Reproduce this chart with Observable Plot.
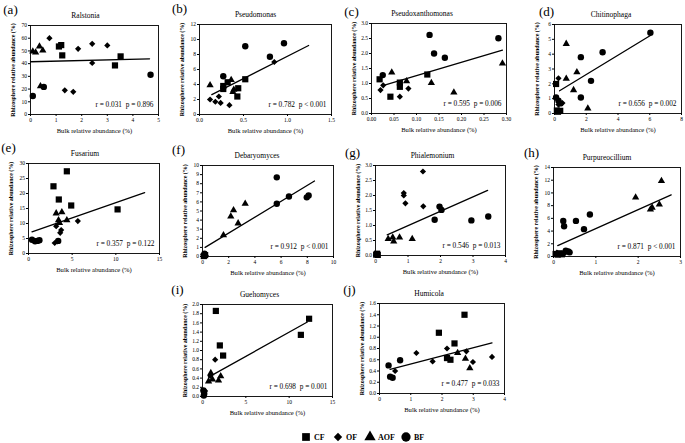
<!DOCTYPE html>
<html><head><meta charset="utf-8">
<script src="https://cdn.jsdelivr.net/npm/d3@7"></script>
<script src="https://cdn.jsdelivr.net/npm/@observablehq/plot@0.6"></script>
<style>
html,body{margin:0;padding:0;background:#fff;}
#chart{position:relative;width:685px;height:443px;overflow:hidden;font-family:'Liberation Serif','Times New Roman',serif;}
#chart svg{position:absolute;overflow:visible;}
</style></head><body><div id="chart"></div>
<script>
// ---- treatments / legend ----
const treatments = ["CF", "OF", "AOF", "BF"];
const symbolNames = ["square", "diamond2", "triangle", "circle"];
const symbolR = [3.5, 2.8, 2.7, 3.2];

// ---- data: [bulk %, rhizosphere %, treatment] ----
const ralstonia = [
  [1.11,53.5,"CF"],[1.2,54.6,"CF"],[1.24,46.5,"CF"],[3.3,38.6,"CF"],[3.52,45.7,"CF"],
  [0.74,60,"OF"],[1.86,51.7,"OF"],[2.41,55.6,"OF"],[2.41,40.5,"OF"],[3.0,54.3,"OF"],[1.34,19,"OF"],[1.67,17.8,"OF"],
  [0.09,49.6,"AOF"],[0.2,48.8,"AOF"],[0.35,53.5,"AOF"],[0.48,50.4,"AOF"],[0.39,22.2,"AOF"],
  [0.52,21.7,"BF"],[0.09,14.6,"BF"],[4.69,31.3,"BF"]
];
const pseudomonas = [
  [0.27,3.8,"CF"],[0.27,3.4,"CF"],[0.32,4.3,"CF"],[0.43,2.4,"CF"],[0.44,3.5,"CF"],[0.52,4.7,"CF"],
  [0.12,2.0,"OF"],[0.18,1.7,"OF"],[0.22,2.4,"OF"],[0.24,1.55,"OF"],[0.34,1.25,"OF"],[0.85,7.0,"OF"],
  [0.12,3.9,"AOF"],[0.36,4.6,"AOF"],[0.38,3.0,"AOF"],[0.39,3.3,"AOF"],
  [0.27,5.1,"BF"],[0.52,9.1,"BF"],[0.8,7.7,"BF"],[0.96,9.5,"BF"]
];
const pseudoxanthomonas = [
  [0.018,1.14,"CF"],[0.042,0.56,"CF"],[0.063,1.03,"CF"],[0.063,0.89,"CF"],[0.124,1.3,"CF"],
  [0.02,0.78,"OF"],[0.026,0.94,"OF"],[0.063,0.56,"OF"],[0.082,0.83,"OF"],
  [0.045,1.37,"AOF"],[0.078,1.08,"AOF"],[0.133,1.02,"AOF"],[0.183,0.7,"AOF"],[0.291,1.67,"AOF"],
  [0.025,1.28,"BF"],[0.129,2.62,"BF"],[0.139,2.0,"BF"],[0.163,1.86,"BF"],[0.282,2.51,"BF"]
];
const chitinophaga = [
  [0.1,1.99,"CF"],[0.15,0.2,"CF"],[0.36,0.18,"CF"],[0.22,0.12,"CF"],
  [0.25,2.37,"OF"],[0.5,0.7,"OF"],[0.25,0.6,"OF"],
  [0.74,4.7,"AOF"],[0.74,2.35,"AOF"],[1.41,2.78,"AOF"],[1.2,1.58,"AOF"],[2.1,0.34,"AOF"],
  [0.1,1.08,"BF"],[0.25,0.86,"BF"],[0.36,0.68,"BF"],[1.66,3.8,"BF"],[1.66,1.08,"BF"],[2.3,2.2,"BF"],[3.03,4.13,"BF"],[6.04,5.44,"BF"]
];
const fusarium = [
  [2.86,22.4,"CF"],[4.39,27.4,"CF"],[3.47,18,"CF"],[4.89,16,"CF"],[10.2,14.7,"CF"],
  [3.17,9.1,"OF"],[3.74,7.8,"OF"],[3.63,6.9,"OF"],[5.65,10.8,"OF"],[3.0,3.5,"OF"],[3.3,4.0,"OF"],
  [3.17,13.4,"AOF"],[3.82,13.8,"AOF"],[3.44,11.1,"AOF"],[4.39,11.1,"AOF"],[3.55,10.2,"AOF"],
  [0.4,4.6,"BF"],[0.75,4.1,"BF"],[1.0,4.2,"BF"],[1.25,4.4,"BF"],[3.4,4.2,"BF"]
];
const debaryomyces = [
  [0.1,0.05,"CF"],[0.2,0.15,"CF"],
  [0.05,0.2,"OF"],[0.25,0.1,"OF"],
  [1.6,2.35,"AOF"],[2.16,4.4,"AOF"],[2.37,5.1,"AOF"],[2.72,3.65,"AOF"],[3.26,5.8,"AOF"],
  [0.15,0.3,"BF"],[5.67,8.7,"BF"],[5.67,5.8,"BF"],[6.6,6.6,"BF"],[7.96,6.5,"BF"],[8.1,6.7,"BF"]
];
const phialemonium = [
  [0.02,0.03,"CF"],[0.05,0.06,"CF"],[0.07,0.02,"CF"],
  [0.87,2.08,"OF"],[0.87,2.0,"OF"],[0.92,1.74,"OF"],[1.46,2.8,"OF"],[1.47,1.64,"OF"],
  [0.39,0.55,"AOF"],[0.53,0.6,"AOF"],[0.56,0.47,"AOF"],[0.74,0.6,"AOF"],[1.13,0.55,"AOF"],
  [1.97,1.63,"BF"],[2.03,1.52,"BF"],[1.82,1.19,"BF"],[2.95,1.17,"BF"],[3.47,1.3,"BF"]
];
const purpureocillium = [
  [0.05,0.4,"CF"],[0.1,0.3,"CF"],[0.15,0.5,"CF"],[0.2,0.35,"CF"],
  [0.08,0.6,"OF"],[0.18,0.45,"OF"],[0.25,0.4,"OF"],
  [1.94,9.3,"AOF"],[2.29,7.4,"AOF"],[2.33,7.7,"AOF"],[2.5,8.2,"AOF"],[2.55,11.9,"AOF"],
  [0.23,5.6,"BF"],[0.25,4.75,"BF"],[0.53,5.6,"BF"],[0.86,6.6,"BF"],[0.72,4.3,"BF"],[0.29,0.9,"BF"],[0.35,0.8,"BF"],[0.38,0.65,"BF"]
];
const guehomyces = [
  [1.54,1.86,"CF"],[2.0,1.11,"CF"],[2.38,0.89,"CF"],[11.35,1.34,"CF"],[12.3,1.69,"CF"],
  [1.46,0.8,"OF"],[0.9,0.45,"OF"],[0.3,0.12,"OF"],
  [0.96,0.51,"AOF"],[0.7,0.33,"AOF"],[1.15,0.37,"AOF"],[1.85,0.35,"AOF"],[2.1,0.44,"AOF"],
  [0.1,0.13,"BF"],[0.2,0.06,"BF"],[0.15,0.02,"BF"]
];
const humicola = [
  [1.9,1.08,"CF"],[2.4,0.89,"CF"],[2.72,1.4,"CF"],[2.16,0.63,"CF"],[2.27,0.6,"CF"],
  [0.5,0.4,"OF"],[1.18,0.72,"OF"],[1.7,0.57,"OF"],[2.16,0.8,"OF"],[2.78,0.75,"OF"],[2.99,0.56,"OF"],[3.6,0.65,"OF"],
  [2.5,0.72,"AOF"],[2.75,0.62,"AOF"],[2.89,0.45,"AOF"],
  [0.29,0.5,"BF"],[0.34,0.3,"BF"],[0.42,0.28,"BF"],[0.66,0.59,"BF"]
];

// ---- trend line end points ----
const ralstoniaFit = [[0,41.5],[4.65,43.8]];
const pseudomonasFit = [[0.14,2.65],[1.24,9.2]];
const pseudoxanthomonasFit = [[0.027,0.94],[0.291,2.11]];
const chitinophagaFit = [[0.32,1.53],[6.04,5.26]];
const fusariumFit = [[0.4,7.2],[13.3,20.3]];
const debaryomycesFit = [[0.2,1.0],[8.55,8.3]];
const phialemoniumFit = [[0.36,0.69],[3.45,2.17]];
const purpureocilliumFit = [[0.1,1.72],[2.78,9.7]];
const guehomycesFit = [[0.7,0.42],[12.1,1.62]];
const humicolaFit = [[0.34,0.43],[3.6,0.9]];

// ---- titles, labels, statistics ----
const panelLabels = ["(a)","(b)","(c)","(d)","(e)","(f)","(g)","(h)","(i)","(j)"];
const genusNames = ["Ralstonia","Pseudomonas","Pseudoxanthomonas","Chitinophaga","Fusarium","Debaryomyces","Phialemonium","Purpureocillium","Guehomyces","Humicola"];
const statTexts = [
  "r = 0.031\u00a0\u00a0p = 0.896","r = 0.782\u00a0\u00a0p < 0.001","r = 0.595\u00a0\u00a0p = 0.006","r = 0.656\u00a0\u00a0p = 0.002",
  "r = 0.357\u00a0\u00a0p = 0.122","r = 0.912\u00a0\u00a0p < 0.001","r = 0.546\u00a0\u00a0p = 0.013","r = 0.871\u00a0\u00a0p < 0.001",
  "r = 0.698\u00a0\u00a0p = 0.001","r = 0.477\u00a0\u00a0p = 0.033"
];
const xLabel = "Bulk relative abundance (%)";
const yLabel = "Rhizosphere relative abundance (%)";

// ---- axis ticks ----
const xTicksA = [0,1,2,3,4,5], yTicksA = [0,10,20,30,40,50,60,70];
const xTicksB = [0,0.5,1,1.5], yTicksB = [0,2,4,6,8,10,12];
const xTicksC = [0,0.05,0.1,0.15,0.2,0.25,0.3], yTicksC = [0,0.5,1,1.5,2,2.5,3];
const xTicksD = [0,2,4,6,8], yTicksD = [0,1,2,3,4,5,6];
const xTicksE = [0,5,10,15], yTicksE = [0,5,10,15,20,25,30];
const xTicksF = [0,2,4,6,8,10], yTicksF = [0,1,2,3,4,5,6,7,8,9,10];
const xTicksG = [0,1,2,3,4], yTicksG = [0,0.5,1,1.5,2,2.5,3];
const xTicksH = [0,1,2,3], yTicksH = [0,2,4,6,8,10,12,14];
const xTicksI = [0,5,10,15], yTicksI = [0,0.2,0.4,0.6,0.8,1,1.2,1.4,1.6,1.8,2];
const xTicksJ = [0,1,2,3,4], yTicksJ = [0,0.2,0.4,0.6,0.8,1,1.2,1.4,1.6];

// ---- panel layout (frame in page px: left, right, top, bottom) ----
const panels = [
  {data: ralstonia, fit: ralstoniaFit, xt: xTicksA, yt: yTicksA, xf: "d", yf: "d", frame: [30,158,25,114], lab: [-20,-16], tdx: -9},
  {data: pseudomonas, fit: pseudomonasFit, xt: xTicksB, yt: yTicksB, xf: ".1f", yf: "d", frame: [199,331,24,114], lab: [-20,-16], tdx: -10},
  {data: pseudoxanthomonas, fit: pseudoxanthomonasFit, xt: xTicksC, yt: yTicksC, xf: ".2f", yf: ".1f", frame: [371,506,23,113], lab: [-20,-12], tdx: -17},
  {data: chitinophaga, fit: chitinophagaFit, xt: xTicksD, yt: yTicksD, xf: "d", yf: "d", frame: [554,681,24,113], lab: [-8,-13], tdx: -7},
  {data: fusarium, fit: fusariumFit, xt: xTicksE, yt: yTicksE, xf: "d", yf: "d", frame: [28,159,163,253], lab: [-20,-16], tdx: -9},
  {data: debaryomyces, fit: debaryomycesFit, xt: xTicksF, yt: yTicksF, xf: "d", yf: "d", frame: [202,333,165,256], lab: [-24,-16], tdx: -11},
  {data: phialemonium, fit: phialemoniumFit, xt: xTicksG, yt: yTicksG, xf: "d", yf: ".1f", frame: [375,505,165,255], lab: [-23,-13], tdx: -8},
  {data: purpureocillium, fit: purpureocilliumFit, xt: xTicksH, yt: yTicksH, xf: "d", yf: "d", frame: [553,680,167,256], lab: [-22,-15], tdx: -10},
  {data: guehomyces, fit: guehomycesFit, xt: xTicksI, yt: yTicksI, xf: "d", yf: ".1f", frame: [202,332,304,396], lab: [-25,-15], tdx: -8},
  {data: humicola, fit: humicolaFit, xt: xTicksJ, yt: yTicksJ, xf: "d", yf: ".1f", frame: [379,504,303,393], lab: [-30,-14], tdx: -13}
];

const chart = document.getElementById("chart");
const FONT = "'Liberation Serif','Times New Roman',serif";
const mL = 45, mR = 10, mT = 32, mB = 26;

panels.forEach((p, i) => {
  const [fl, fr, ft, fb] = p.frame;
  const rows = p.data.map(([x, y, t]) => ({x, y, t}));
  const fit = p.fit.map(([x, y]) => ({x, y}));
  const xt = p.xt, yt = p.yt;
  const svg = Plot.plot({
    width: fr - fl + mL + mR,
    height: fb - ft + mT + mB,
    marginLeft: mL, marginRight: mR, marginTop: mT, marginBottom: mB,
    style: {fontFamily: FONT, fontSize: "5.5px", background: "none", overflow: "visible", color: "#000"},
    x: {domain: [xt[0], xt[xt.length - 1]], ticks: xt, tickFormat: d3.format(p.xf), tickSize: 2, tickPadding: 1.5, label: null},
    y: {domain: [yt[0], yt[yt.length - 1]], ticks: yt, tickFormat: d3.format(p.yf), tickSize: 2, tickPadding: 1.5, label: null},
    marks: [
      Plot.frame({stroke: "#000", strokeWidth: 0.9}),
      Plot.line(fit, {x: "x", y: "y", stroke: "#000", strokeWidth: 1.3}),
      ...treatments.map((t, k) => Plot.dot(rows.filter(d => d.t === t), {x: "x", y: "y", symbol: symbolNames[k], r: symbolR[k], fill: "#000"})),
      Plot.text([statTexts[i]], {text: d => d, frameAnchor: "bottom-right", textAnchor: "end", lineAnchor: "middle", dx: -5, dy: -10, fontSize: 7.3}),
      Plot.text([genusNames[i]], {text: d => d, frameAnchor: "top", textAnchor: "middle", lineAnchor: "middle", dx: p.tdx, dy: -10, fontSize: 7.5}),
      Plot.text([panelLabels[i]], {text: d => d, frameAnchor: "top-left", textAnchor: "middle", lineAnchor: "middle", dx: p.lab[0], dy: p.lab[1], fontSize: 13}),
      Plot.text([yLabel], {text: d => d, frameAnchor: "left", textAnchor: "middle", lineAnchor: "middle", rotate: -90, dx: -17, fontSize: 6, fontWeight: "bold"}),
      Plot.text([xLabel], {text: d => d, frameAnchor: "bottom", textAnchor: "middle", lineAnchor: "middle", dy: 16, fontSize: 6.6})
    ]
  });
  svg.style.left = (fl - mL) + "px";
  svg.style.top = (ft - mT) + "px";
  chart.appendChild(svg);
});

// ---- legend ----
const legendX = [306, 338, 370, 406];
const legendSvg = d3.create("svg").attr("width", 685).attr("height", 20)
  .style("left", "0px").style("top", "427px");
const legendSizes = [60, 45, 55, 68];
treatments.forEach((t, k) => {
  const sym = [d3.symbolSquare, d3.symbolDiamond2, d3.symbolTriangle, d3.symbolCircle][k];
  legendSvg.append("path").attr("d", d3.symbol(sym, legendSizes[k])()).attr("transform", `translate(${legendX[k]},10)`).attr("fill", "#000");
  legendSvg.append("text").attr("x", legendX[k] + 8).attr("y", 10).attr("dy", "0.35em")
    .attr("font-family", FONT).attr("font-size", 8).attr("font-weight", "bold").text(t);
});
chart.appendChild(legendSvg.node());
</script></body></html>
